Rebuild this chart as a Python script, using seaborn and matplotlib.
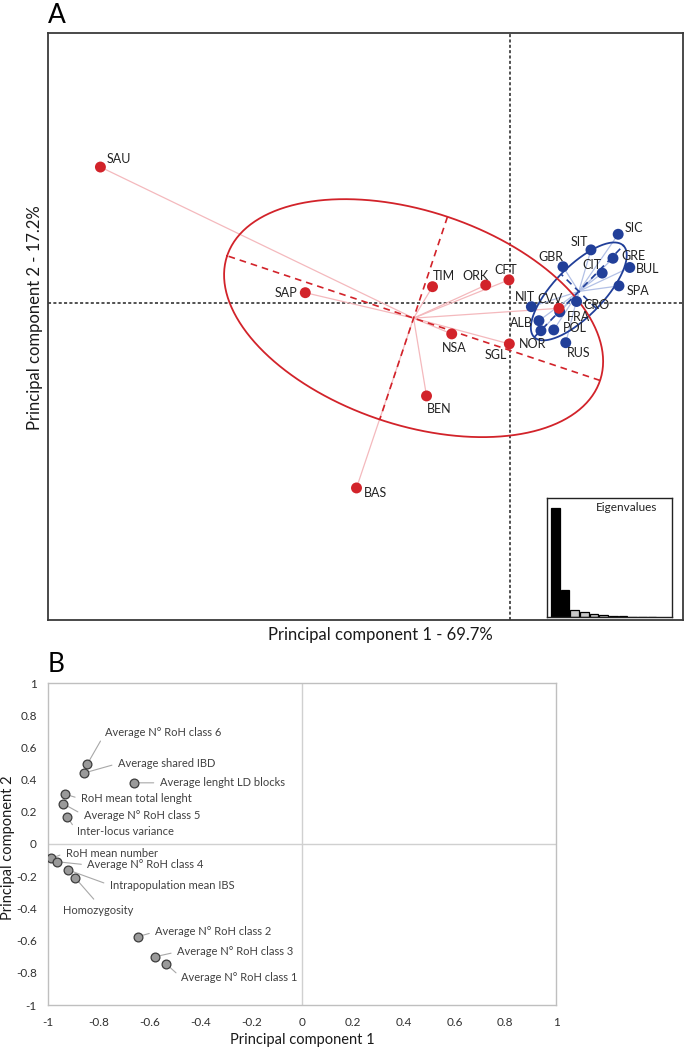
import numpy as np
import pandas as pd
import seaborn as sns
import matplotlib.pyplot as plt

sns.set_theme(style="white")
plt.rcParams['font.family'] = ['Lato', 'DejaVu Sans']

# ---- Panel A: population scores on the first two components ----
red_pops = ['SAU', 'SAP', 'TIM', 'ORK', 'CFT', 'NSA', 'SGL', 'BEN', 'BAS', 'CVV']
red_pc1 = [-10.23, -5.11, -1.93, -0.60, -0.02, -1.45, -0.01, -2.08, -3.83, 1.23]
red_pc2 = [3.39, 0.25, 0.40, 0.44, 0.57, -0.78, -1.03, -2.33, -4.63, -0.14]

blue_pops = ['SIC', 'SIT', 'GRE', 'GBR', 'BUL', 'CIT', 'SPA', 'CRO', 'NIT', 'FRA', 'ALB', 'NOR', 'POL', 'RUS']
blue_pc1 = [2.71, 2.03, 2.58, 1.33, 3.00, 2.31, 2.73, 1.67, 0.54, 1.25, 0.73, 0.78, 1.10, 1.40]
blue_pc2 = [1.71, 1.32, 1.11, 0.90, 0.88, 0.74, 0.42, 0.03, -0.10, -0.23, -0.45, -0.70, -0.68, -1.00]

# eigenvalues (% of variance), first two retained
eigen_pct = [69.7, 17.2, 4.6, 3.3, 2.0, 1.2, 0.8, 0.5, 0.3, 0.2, 0.1]
n_retained = 2

# ---- Panel B: variable loadings ----
var_names = ['Average N° RoH class 6', 'Average shared IBD', 'Average lenght LD blocks',
             'RoH mean total lenght', 'Average N° RoH class 5', 'Inter-locus variance',
             'RoH mean number', 'Average N° RoH class 4', 'Intrapopulation mean IBS',
             'Homozygosity', 'Average N° RoH class 2', 'Average N° RoH class 3',
             'Average N° RoH class 1']
var_pc1 = [-0.845, -0.86, -0.66, -0.935, -0.94, -0.925, -0.99, -0.965, -0.921, -0.892, -0.647, -0.578, -0.535]
var_pc2 = [0.497, 0.44, 0.38, 0.31, 0.25, 0.17, -0.09, -0.11, -0.161, -0.212, -0.576, -0.70, -0.745]
b_ticks = [-1, -0.8, -0.6, -0.4, -0.2, 0, 0.2, 0.4, 0.6, 0.8, 1]

# label placement (layout only)
a_offsets = {  # dx, dy in pixels, ha
    'SAU': (6, 8, 'left'), 'SAP': (-8, 0, 'right'), 'TIM': (0, 11, 'left'),
    'ORK': (3, 9, 'right'), 'CFT': (-3, 10, 'center'), 'NSA': (3, -14, 'center'),
    'SGL': (-2, -11, 'right'), 'BEN': (0, -13, 'left'), 'BAS': (7, -5, 'left'),
    'CVV': (-9, 9, 'center'), 'SIC': (6, 6, 'left'), 'SIT': (-3, 8, 'right'),
    'GRE': (8, 2, 'left'), 'GBR': (0, 10, 'right'), 'BUL': (6, -2, 'left'),
    'CIT': (-1, 8, 'right'), 'SPA': (8, -5, 'left'), 'CRO': (7, -4, 'left'),
    'NIT': (-6, 10, 'center'), 'FRA': (7, -5, 'left'), 'ALB': (-6, -2, 'right'),
    'NOR': (-8, -13, 'center'), 'POL': (9, 2, 'left'), 'RUS': (1, -10, 'left'),
}
b_text_pos = [(-0.775, 0.69), (-0.725, 0.50), (-0.56, 0.38), (-0.87, 0.28), (-0.86, 0.18),
              (-0.885, 0.075), (-0.93, -0.056), (-0.845, -0.13), (-0.757, -0.255),
              (-0.94, -0.41), (-0.578, -0.545), (-0.492, -0.67), (-0.475, -0.83)]

RED = '#d2232a'
BLUE = '#213f99'
W, H = 685, 1053


def ellipse_parts(x, y, k=1.5):
    pts = np.column_stack([x, y])
    c = pts.mean(axis=0)
    cov = np.cov(pts.T, bias=True)
    vals, vecs = np.linalg.eigh(cov)
    order = vals.argsort()[::-1]
    vals, vecs = vals[order], vecs[:, order]
    a, b = k * np.sqrt(vals)
    t = np.linspace(0, 2 * np.pi, 300)
    ell = c + np.outer(a * np.cos(t), vecs[:, 0]) + np.outer(b * np.sin(t), vecs[:, 1])
    return c, ell, a * vecs[:, 0], b * vecs[:, 1]


fig = plt.figure(figsize=(W / 100, H / 100), dpi=100)

# ================= Panel A =================
axA = fig.add_axes([48 / W, 1 - 620 / H, 635 / W, 587 / H])
axA.axhline(0, color='#222222', lw=1.1, ls=(0, (2, 1.5)), zorder=1)
axA.axvline(0, color='#222222', lw=1.1, ls=(0, (2, 1.5)), zorder=1)

groups = [(blue_pc1, blue_pc2, BLUE, '#b3c1e6'), (red_pc1, red_pc2, RED, '#f4b9bd')]
for gx, gy, col, light in groups:
    c, ell, va, vb = ellipse_parts(gx, gy)
    for px, py in zip(gx, gy):
        axA.plot([c[0], px], [c[1], py], color=light, lw=0.9, zorder=2)
    axA.plot(ell[:, 0], ell[:, 1], color=col, lw=1.3, zorder=3)
    for v in (va, vb):
        axA.plot([c[0] - v[0], c[0] + v[0]], [c[1] - v[1], c[1] + v[1]],
                 color=col, lw=1.2, ls=(0, (4, 3)), zorder=3)

dfA = pd.DataFrame({
    'pop': blue_pops + red_pops,
    'pc1': blue_pc1 + red_pc1,
    'pc2': blue_pc2 + red_pc2,
    'cluster': ['blue'] * len(blue_pops) + ['red'] * len(red_pops),
})
sns.scatterplot(data=dfA, x='pc1', y='pc2', hue='cluster', palette={'blue': BLUE, 'red': RED},
                s=62, linewidth=0, legend=False, ax=axA, zorder=4)
for _, r in dfA.iterrows():
    dx, dy, ha = a_offsets[r['pop']]
    axA.annotate(r['pop'], (r['pc1'], r['pc2']), xytext=(dx, dy), textcoords='offset pixels',
                 ha=ha, va='center', fontsize=9, color='#222222', zorder=5)

axA.set_xlim(-11.54, 4.33)
axA.set_ylim(-7.93, 6.74)
axA.set_xticks([])
axA.set_yticks([])
axA.set_xlabel('')
axA.set_ylabel('')
for sp in axA.spines.values():
    sp.set_color('#3a3a3a')
    sp.set_linewidth(1.3)

fig.text(380 / W, 1 - 635 / H, 'Principal component 1 - 69.7%', ha='center', va='center',
         fontsize=12, color='#1a1a1a')
fig.text(35 / W, 1 - 318 / H, 'Principal component 2 - 17.2%', ha='center', va='center',
         rotation=90, fontsize=12, color='#1a1a1a')
fig.text(48 / W, 1 - 23 / H, 'A', ha='left', va='baseline', fontsize=19, color='black')

# eigenvalue inset
axE = fig.add_axes([547 / W, 1 - 617 / H, 125 / W, 119 / H])
dfE = pd.DataFrame({'k': list(range(len(eigen_pct))), 'val': eigen_pct,
                    'kept': ['yes' if i < n_retained else 'no' for i in range(len(eigen_pct))]})
sns.barplot(data=dfE, x='k', y='val', hue='kept', palette={'yes': 'black', 'no': '#c8c8c8'},
            dodge=False, width=0.9, edgecolor='black', linewidth=0.9, legend=False, ax=axE)
axE.set_xlim(-0.86, 12.07)
axE.set_ylim(0, 76)
axE.set_xticks([])
axE.set_yticks([])
axE.set_xlabel('')
axE.set_ylabel('')
axE.set_facecolor('white')
for sp in axE.spines.values():
    sp.set_color('#222222')
    sp.set_linewidth(1.0)
axE.text(0.88, 0.92, 'Eigenvalues', transform=axE.transAxes, ha='right', va='center',
         fontsize=8.5, color='#222222')

# ================= Panel B =================
axB = fig.add_axes([48 / W, 1 - 1005 / H, 508 / W, 322 / H])
axB.axhline(0, color='#d0d0d0', lw=1.0, zorder=1)
axB.axvline(0, color='#d0d0d0', lw=1.0, zorder=1)

dfB = pd.DataFrame({'name': var_names, 'pc1': var_pc1, 'pc2': var_pc2})
for (tx, ty), (_, r) in zip(b_text_pos, dfB.iterrows()):
    rel = (0.5, 1.0) if r['name'] == 'Homozygosity' else (0.0, 0.5)
    axB.annotate(r['name'], (r['pc1'], r['pc2']), xytext=(tx, ty), textcoords='data',
                 ha='left', va='center', fontsize=8, color='#404040',
                 arrowprops=dict(arrowstyle='-', color='#a8a8a8', lw=0.8, relpos=rel,
                                 shrinkA=2, shrinkB=3))
sns.scatterplot(data=dfB, x='pc1', y='pc2', color='#9a9a9a', edgecolor='#3c3c3c',
                linewidth=0.9, s=40, legend=False, ax=axB, zorder=4)

axB.set_xlim(-1, 1)
axB.set_ylim(-1, 1)
axB.set_xticks(b_ticks)
axB.set_yticks(b_ticks)
axB.set_xticklabels([f'{t:g}' for t in b_ticks])
axB.set_yticklabels([f'{t:g}' for t in b_ticks])
axB.tick_params(axis='both', length=0, labelsize=8.5, labelcolor='#303030')
axB.tick_params(axis='x', pad=9)
axB.tick_params(axis='y', pad=8)
axB.set_xlabel('')
axB.set_ylabel('')
for sp in axB.spines.values():
    sp.set_color('#bfbfbf')
    sp.set_linewidth(1.0)

fig.text(302 / W, 1 - 1040 / H, 'Principal component 1', ha='center', va='center',
         fontsize=10.5, color='#1a1a1a')
fig.text(8 / W, 1 - 848 / H, 'Principal component 2', ha='center', va='center',
         rotation=90, fontsize=10.5, color='#1a1a1a')
fig.text(48 / W, 1 - 672 / H, 'B', ha='left', va='baseline', fontsize=19, color='black')

fig.savefig('out.png', dpi=100, facecolor='white')
